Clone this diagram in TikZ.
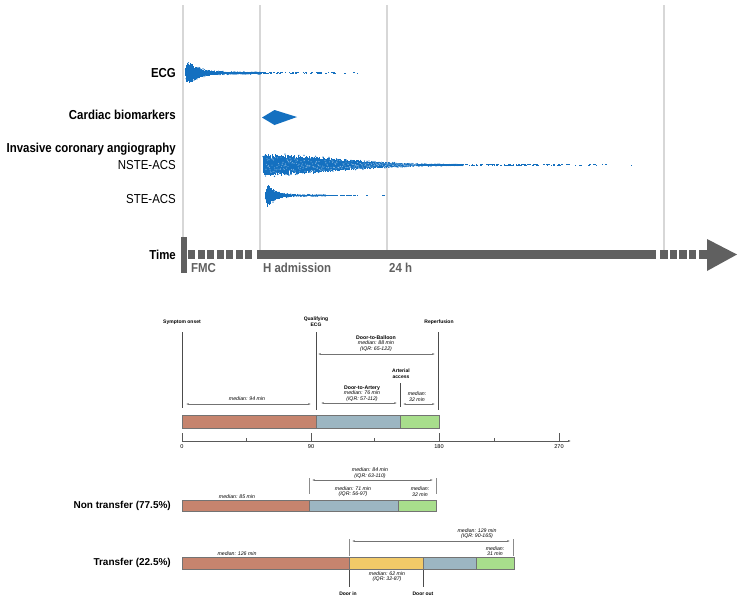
\documentclass[tikz,border=0pt]{standalone}
\usepackage{fontspec}
\setmainfont{Liberation Sans}
\newfontfamily\narrowfont[FakeStretch=0.88]{Liberation Sans}
\usetikzlibrary{arrows.meta}

\definecolor{datablue}{RGB}{20,112,192}
\definecolor{gridgrey}{RGB}{215,215,215}
\definecolor{axisgrey}{RGB}{96,96,96}
\definecolor{segbrown}{RGB}{198,132,110}
\definecolor{segblue}{RGB}{156,182,194}
\definecolor{seggreen}{RGB}{168,222,140}
\definecolor{segyellow}{RGB}{242,202,104}

% dense part of a swarm: x0, count, step, yc, envelope (in \tq = distance from x0)
\newcommand\swarmcore[5]{%
  \foreach \k in {0,...,#2}{%
    \pgfmathsetmacro\tq{#3*\k}%
    \pgfmathsetmacro\xx{#1+\tq}%
    \pgfmathsetmacro\hh{#5}%
    \pgfmathsetmacro\ya{#4-\hh*(0.6+0.4*rnd)}%
    \pgfmathsetmacro\yb{#4+\hh*(0.6+0.4*rnd)}%
    \fill[datablue] (\xx-0.45,\ya) rectangle (\xx+0.45,\yb);
    \pgfmathsetmacro\yc{#4+\hh*(2*rnd-1)*1.05}%
    \fill[datablue] (\xx,\yc) circle[radius=0.7];
  }}
% white speckles inside a swarm for a mottled look
\newcommand\swarmspeck[5]{%
  \foreach \k in {0,...,#2}{%
    \pgfmathsetmacro\tq{#3*\k}%
    \pgfmathsetmacro\xx{#1+\tq}%
    \pgfmathsetmacro\hh{#5}%
    \pgfmathsetmacro\yc{#4+\hh*(2*rnd-1)*0.75}%
    \fill[white, opacity=0.45] (\xx,\yc) circle[radius=0.55];
  }}
% sparse trail: x0, x1, yc, count, half height
\newcommand\swarmtrail[5]{%
  \foreach \k in {1,...,#4}{%
    \pgfmathsetmacro\xx{#1+(#2-#1)*rnd*(0.35+0.65*rnd)}%
    \pgfmathsetmacro\ww{0.6+2.2*rnd}%
    \pgfmathsetmacro\dy{(rnd-0.5)*#5}%
    \fill[datablue] (\xx,#3+\dy-0.55) rectangle (\xx+\ww,#3+\dy+0.55);
  }}

\tikzset{
  rowlabel/.style={font=\narrowfont\fontsize{13}{15}\selectfont\bfseries, anchor=east, inner sep=0pt, text height=9.3pt, text depth=0pt},
  rowlabelreg/.style={font=\narrowfont\fontsize{13}{15}\selectfont, anchor=east, inner sep=0pt, text height=9.3pt, text depth=0pt},
  ticklabel/.style={font=\narrowfont\fontsize{13}{15}\selectfont\bfseries, text=axisgrey, anchor=west, inner sep=0pt, text height=9.3pt, text depth=0pt},
  gridline/.style={draw=gridgrey, line width=1.2pt},
  evt/.style={font=\fontsize{5}{5.6}\selectfont\bfseries, align=center, inner sep=0pt},
  med/.style={font=\fontsize{5.2}{5.6}\selectfont\itshape, align=center, inner sep=0pt},
  axnum/.style={font=\fontsize{5.6}{6}\selectfont, inner sep=0pt},
  dimarrow/.style={draw=black!55, line width=0.4pt, {Latex[length=2.6pt,width=1.7pt]}-{Latex[length=2.6pt,width=1.7pt]}},
  markline/.style={draw=black!70, line width=0.5pt},
  seg/.style={draw=black!55, line width=0.5pt},
  grouplabel/.style={font=\fontsize{10}{12}\selectfont\bfseries, anchor=east, inner sep=0pt},
}

\begin{document}
\begin{tikzpicture}[x=1pt,y=-1pt]
\useasboundingbox (0,0) rectangle (740,603);
\fill[white] (0,0) rectangle (740,603);
\pgfmathsetseed{7}

% ---------- top panel: grid lines ----------
\draw[gridline] (183,5) -- (183,250);
\draw[gridline] (260,5) -- (260,250);
\draw[gridline] (387,5) -- (387,250);
\draw[gridline] (664,5) -- (664,250);

% row labels
\node[rowlabel] (ecg) at (176,73) {ECG};
\node[rowlabel] (bio) at (176,115) {Cardiac biomarkers};
\node[rowlabel] (ica) at (176,148) {Invasive coronary angiography};
\node[rowlabelreg] (nste) at (176,165) {NSTE-ACS};
\node[rowlabelreg] (ste) at (176,199) {STE-ACS};
\node[rowlabel] (time) at (176,255) {Time};

% ECG swarm
\swarmcore{185.5}{150}{0.5}{73}{(10*exp(-max(0,\tq-4)/11)+1.1)*min(1,0.45+\tq/2.5)}
\swarmtrail{255}{381}{73}{55}{1.0}
% cardiac biomarkers diamond
\fill[datablue] (262,117.5) -- (274.5,110) -- (297,117) -- (274.5,125) -- cycle;
% NSTE-ACS swarm
\swarmcore{263}{400}{0.5}{165}{(9.8*exp(-(\tq/100)^2)+1.3*exp(-\tq/160))*min(1,0.75+\tq/4)}
\swarmspeck{266}{300}{0.5}{165}{9.8*exp(-(\tq/100)^2)+1.0}
\swarmtrail{455}{642}{165}{90}{1.4}
% STE-ACS swarm
\swarmcore{265.5}{120}{0.5}{195.5}{(10.5*exp(-max(0,\tq-3)/8)+0.7)*min(1,0.4+\tq/2.5)}
\swarmtrail{320}{389}{195.5}{35}{0.8}

% ---------- time arrow ----------
\fill[axisgrey] (181,237) rectangle (187,273);
\foreach \d in {0,...,6}{\fill[axisgrey] (188+9.5*\d,250) rectangle (195+9.5*\d,259);}
\fill[axisgrey] (257,250) rectangle (656,259);
\foreach \d in {0,...,3}{\fill[axisgrey] (660+9.6*\d,250) rectangle (667.5+9.6*\d,259);}
\fill[axisgrey] (699,250) rectangle (708,259);
\fill[axisgrey] (707,239) -- (737,254.5) -- (707,271) -- cycle;
\node[ticklabel] (fmc) at (191,268) {FMC};
\node[ticklabel] (hadm) at (263,268) {H admission};
\node[ticklabel] (h24) at (389,268) {24 h};

% ---------- middle panel ----------
\node[evt] (onset) at (182,322) {Symptom onset};
\node[evt] (qecg) at (316,322) {Qualifying\\ECG};
\node[evt] (reperf) at (439,322) {Reperfusion};
\node[evt] (arterial) at (401,374) {Arterial\\access};

\coordinate (l1t) at (182,332); \coordinate (l1b) at (182,408);
\coordinate (l2t) at (316,332); \coordinate (l2b) at (316,410);
\coordinate (l3t) at (438,332); \coordinate (l3b) at (438,410);
\coordinate (l4t) at (400,383); \coordinate (l4b) at (400,407);
\draw[markline] (l1t) -- (l1b);
\draw[markline] (l2t) -- (l2b);
\draw[markline] (l3t) -- (l3b);
\draw[markline] (l4t) -- (l4b);

\node[med] (dtb) at (376,343.5) {\textbf{\upshape Door-to-Balloon}\\median: 88 min\\(IQR: 65-122)};
\coordinate (dtbL) at (318,354); \coordinate (dtbR) at (435,354);
\draw[dimarrow] (dtbL) -- (dtbR);

\node[med] (dta) at (362,393.5) {\textbf{\upshape Door-to-Artery}\\median: 76 min\\(IQR: 57-112)};
\coordinate (dtaL) at (321,403); \coordinate (dtaR) at (397,403);
\draw[dimarrow] (dtaL) -- (dtaR);

\node[med] (m32) at (417,396.5) {median:\\32 min};
\coordinate (m32L) at (403,404); \coordinate (m32R) at (435,404);
\draw[dimarrow] (m32L) -- (m32R);

\node[med] (m94) at (247,399) {median: 94 min};
\coordinate (m94L) at (186,404); \coordinate (m94R) at (311,404);
\draw[dimarrow] (m94L) -- (m94R);

\filldraw[seg, fill=segbrown] (182,415) rectangle (316,428);
\filldraw[seg, fill=segblue] (316,415) rectangle (400,428);
\filldraw[seg, fill=seggreen] (400,415) rectangle (439,428);

% axis
\coordinate (ax0) at (182,441); \coordinate (ax1) at (571,441);
\draw[draw=black!65, line width=0.5pt, -{Latex[length=3pt,width=2pt]}] (ax0) -- (ax1);
\foreach \tx in {182,311,439,559}{\draw[draw=black!65, line width=0.5pt] (\tx,433) -- (\tx,441);}
\foreach \tx in {246,374,494}{\draw[draw=black!65, line width=0.5pt] (\tx,438) -- (\tx,441);}
\node[axnum] (t0) at (182,447) {0};
\node[axnum] (t90) at (311,447) {90};
\node[axnum] (t180) at (439,447) {180};
\node[axnum] (t270) at (559,447) {270};

% ---------- non transfer ----------
\node[grouplabel] (nontr) at (171,506) {Non transfer (77.5\%)};
\filldraw[seg, fill=segbrown] (182,500) rectangle (309,511);
\filldraw[seg, fill=segblue] (309,500) rectangle (398,511);
\filldraw[seg, fill=seggreen] (398,500) rectangle (436,511);
\node[med] (n85) at (237,496.5) {median: 85 min};
\node[med] (n71) at (353,491.5) {median: 71 min\\(IQR: 56-97)};
\node[med] (n32) at (420,491.5) {median:\\32 min};
\node[med] (n84) at (370,473) {median: 84 min\\(IQR: 63-110)};
\coordinate (nt1t) at (309,478); \coordinate (nt1b) at (309,494);
\coordinate (nt2t) at (436,478); \coordinate (nt2b) at (436,494);
\draw[markline, draw=black!45] (nt1t) -- (nt1b);
\draw[markline, draw=black!45] (nt2t) -- (nt2b);
\coordinate (n84L) at (312,480); \coordinate (n84R) at (433,480);
\draw[dimarrow] (n84L) -- (n84R);

% ---------- transfer ----------
\node[grouplabel] (tr) at (171,563) {Transfer (22.5\%)};
\filldraw[seg, fill=segbrown] (182,557) rectangle (349,569);
\filldraw[seg, fill=segyellow] (349,557) rectangle (423,569);
\filldraw[seg, fill=segblue] (423,557) rectangle (476,569);
\filldraw[seg, fill=seggreen] (476,557) rectangle (514,569);
\node[med] (t126) at (237,553.5) {median: 126 min};
\node[med] (t31) at (495,551) {median:\\31 min};
\node[med] (t62) at (387,576.5) {median: 62 min\\(IQR: 32-87)};
\node[med] (t129) at (477,533.5) {median: 129 min\\(IQR: 90-165)};
\coordinate (tt1t) at (349,539); \coordinate (tt1b) at (349,556);
\coordinate (tt2t) at (513,539); \coordinate (tt2b) at (513,556);
\draw[markline, draw=black!45] (tt1t) -- (tt1b);
\draw[markline, draw=black!45] (tt2t) -- (tt2b);
\coordinate (t129L) at (352,541); \coordinate (t129R) at (510,541);
\draw[dimarrow] (t129L) -- (t129R);

\node[evt] (doorin) at (348,594) {Door in};
\node[evt] (doorout) at (423,594) {Door out};
\coordinate (di1) at (349,570); \coordinate (di2) at (349,587);
\coordinate (do1) at (423,570); \coordinate (do2) at (423,587);
\draw[markline] (di1) -- (di2);
\draw[markline] (do1) -- (do2);
\end{tikzpicture}
\end{document}
